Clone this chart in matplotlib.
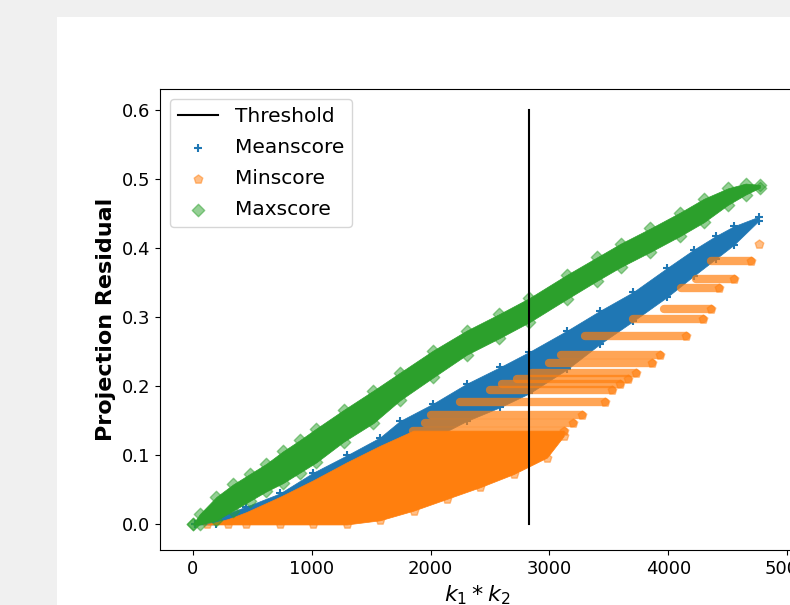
import matplotlib
matplotlib.use("Agg")
import matplotlib.pyplot as plt
from matplotlib.patches import Rectangle

# threshold on k1*k2
threshold_x = 2831
threshold_y = [0.0, 0.6]

# Maxscore cloud: edges
green_x = [0, 60, 200, 340, 480, 620, 760, 900, 1040, 1270, 1520, 1744, 2022, 2305,
           2580, 2831, 3150, 3400, 3600, 3850, 4100, 4300, 4500, 4650, 4770]
green_hi = [0.0, 0.015, 0.040, 0.058, 0.073, 0.088, 0.106, 0.122, 0.139, 0.166, 0.194,
            0.220, 0.252, 0.281, 0.305, 0.328, 0.362, 0.387, 0.407, 0.429, 0.452, 0.472,
            0.487, 0.494, 0.492]
green_lo = [0.0, 0.0, 0.006, 0.020, 0.034, 0.048, 0.060, 0.075, 0.090, 0.120, 0.147,
            0.180, 0.213, 0.246, 0.270, 0.293, 0.327, 0.353, 0.373, 0.395, 0.418, 0.438,
            0.463, 0.478, 0.488]

# Meanscore cloud
blue_x = [20, 200, 452, 733, 1013, 1295, 1575, 1744, 2022, 2305, 2586, 2831, 3150,
          3429, 3707, 3993, 4212, 4400, 4550, 4760]
blue_hi = [0.0, 0.010, 0.026, 0.045, 0.075, 0.100, 0.126, 0.150, 0.175, 0.204, 0.228,
           0.250, 0.281, 0.310, 0.337, 0.372, 0.398, 0.418, 0.432, 0.446]
blue_lo = [0.0, 0.0, 0.008, 0.020, 0.040, 0.060, 0.085, 0.100, 0.125, 0.150, 0.170,
           0.190, 0.225, 0.262, 0.295, 0.330, 0.360, 0.385, 0.405, 0.440]

# Minscore dense part
orange_x = [120, 300, 452, 733, 1013, 1295, 1575, 1857, 2137, 2418, 2699, 2980, 3120]
orange_hi = [0.0, 0.008, 0.018, 0.040, 0.064, 0.090, 0.114, 0.136, 0.136, 0.136, 0.136,
             0.136, 0.136]
orange_lo = [0.0, 0.0, 0.0, 0.0, 0.0, 0.0, 0.006, 0.020, 0.037, 0.054, 0.073, 0.097, 0.128]

# Minscore horizontal rows (level, first x, last x)
band_y = [0.136, 0.147, 0.158, 0.177, 0.195, 0.204, 0.211, 0.219, 0.234, 0.245, 0.273,
          0.298, 0.312, 0.342, 0.356, 0.382, 0.407]
band_x0 = [1850, 1950, 2000, 2250, 2500, 2600, 2727, 2850, 3000, 3100, 3300,
           3707, 3962, 4103, 4229, 4356, 4760]
band_x1 = [3120, 3200, 3275, 3470, 3530, 3597, 3665, 3732, 3866, 3934, 4145,
           4288, 4356, 4423, 4549, 4692, 4760]

c_blue = "#1f77b4"
c_orange = "#ff7f0e"
c_green = "#2ca02c"

fig = plt.figure(figsize=(7.9, 6.05), dpi=100, facecolor="#f0f0f0")
# white page area of the screenshot
fig.add_artist(Rectangle((57 / 790, 0), 1, 1 - 17 / 605, transform=fig.transFigure,
                         facecolor="white", edgecolor="none", zorder=-5))
ax = fig.add_axes([160 / 790, 55 / 605, 634 / 790, 461 / 605])

thr, = ax.plot([threshold_x, threshold_x], threshold_y, color="black", lw=1.5, zorder=3)

# Meanscore
ax.fill_between(blue_x, blue_lo, blue_hi, color=c_blue, lw=0.5, zorder=1)
mean_sc = ax.scatter(blue_x + blue_x, blue_hi + blue_lo, marker="+", s=34,
                     color=c_blue, zorder=1)

# Minscore
ax.fill_between(orange_x, orange_lo, orange_hi, color=c_orange, lw=0.5, zorder=1)
ax.hlines(band_y, band_x0, band_x1, color=c_orange, alpha=0.7, lw=6,
          capstyle="round", zorder=1)
min_sc = ax.scatter(orange_x + band_x1, orange_lo + band_y, marker="p", s=42,
                    color=c_orange, alpha=0.5, zorder=1)

# Maxscore
ax.fill_between(green_x, green_lo, green_hi, color=c_green, lw=0.5, zorder=1)
max_sc = ax.scatter(green_x + green_x, green_hi + green_lo, marker="D", s=40,
                    color=c_green, alpha=0.5, zorder=1)

ax.set_xlim(-275, 5057)
ax.set_ylim(-0.037, 0.631)
ax.set_xticks([0, 1000, 2000, 3000, 4000, 5000])
ax.set_yticks([0.0, 0.1, 0.2, 0.3, 0.4, 0.5, 0.6])
ax.tick_params(labelsize=13)
ax.set_xlabel("$k_1 * k_2$", fontsize=16)
ax.set_ylabel("Projection Residual", fontsize=16, fontweight="bold")

ax.legend([thr, mean_sc, min_sc, max_sc],
          ["Threshold", "Meanscore", "Minscore", "Maxscore"],
          loc="upper left", fontsize=14.5, labelspacing=0.6)

fig.savefig("out.png", dpi=100, facecolor=fig.get_facecolor())
